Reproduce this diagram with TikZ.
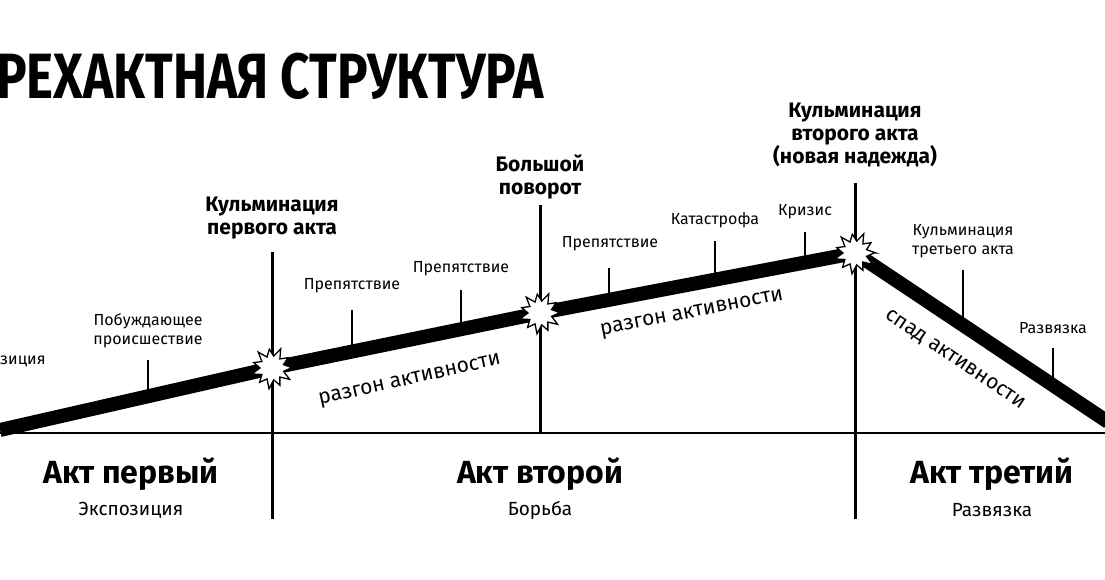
\documentclass[tikz,border=0pt]{standalone}
\usepackage{fontspec}
\setmainfont{Fira Sans}
\begin{document}
\begin{tikzpicture}[x=1pt,y=-1pt,
  lbl/.style={font=\fontsize{16}{19}\selectfont,align=center,inner sep=0},
  hdr/.style={font=\bfseries\fontsize{21}{23}\selectfont,align=center,inner sep=0},
  act/.style={font=\bfseries\fontsize{32}{36}\selectfont,inner sep=0},
  sub/.style={font=\fontsize{19}{22}\selectfont,inner sep=0},
  rot/.style={inner sep=0,font=\fontsize{21}{24}\selectfont},
  tick/.style={line width=1.5pt},
  vline/.style={line width=3pt},
  burst/.style={fill=white,draw=black,line width=1.3pt}]
\useasboundingbox (0,0) rectangle (1105,580);
% title
\node[anchor=west,inner sep=0,font=\bfseries\fontsize{64}{70}\selectfont,xscale=0.8] (title) at (-4,76) {РЕХАКТНАЯ СТРУКТУРА};
% coordinates
\coordinate (s) at (0,430);
\coordinate (c1) at (272,368);
\coordinate (c2) at (540,313);
\coordinate (c3) at (855,253);
\coordinate (e) at (1108,422);
\coordinate (bl) at (0,433);
\coordinate (br) at (1105,433);
% base line
\draw[line width=2.2pt] (bl) -- (br);
% vertical lines
\coordinate (v1t) at (272,252); \coordinate (v1b) at (272,519);
\coordinate (v2t) at (540,205); \coordinate (v2b) at (540,433);
\coordinate (v3t) at (855,183); \coordinate (v3b) at (855,519);
\draw[vline] (v1t) -- (v1b);
\draw[vline] (v2t) -- (v2b);
\draw[vline] (v3t) -- (v3b);
% ticks
\foreach \x/\ya/\yb in {148/360/395, 352/310/352, 461/290/330, 609/268/302, 715/241/282, 805/232/265, 963/270/320, 1053/348/383}
  \draw[tick] (\x,\ya) -- (\x,\yb);
% thick line
\draw[line width=14pt,line join=miter] (s) -- (c1) -- (c2) -- (c3) -- (e);
% bursts
\foreach \c in {c1,c2,c3}
  \draw[burst,shift={(\c)}] plot[samples=23,domain=0:22,variable=\i]
   ({(mod(\i,2)==0 ? 19+mod(\i*7,4) : 12)*cos(\i*360/22)},{(mod(\i,2)==0 ? 19+mod(\i*7,4) : 12)*sin(\i*360/22)}) -- cycle;
% small labels
\node[lbl,anchor=west] (exp0) at (0,361) {зиция};
\node[lbl] (inc) at (148,331) {Побуждающее\\происшествие};
\node[lbl] (p1) at (352,286) {Препятствие};
\node[lbl] (p2) at (461,269) {Препятствие};
\node[lbl] (p3) at (610,244) {Препятствие};
\node[lbl] (cat) at (715,220) {Катастрофа};
\node[lbl] (cr) at (805,212) {Кризис};
\node[lbl] (k3) at (963,241) {Кульминация\\третьего акта};
\node[lbl] (raz) at (1053,328) {Развязка};
% headers
\node[hdr] (h1) at (272,218) {Кульминация\\первого акта};
\node[hdr] (h2) at (540,177) {Большой\\поворот};
\node[hdr] (h3) at (855,135) {Кульминация\\второго акта\\(новая надежда)};
% rotated
\node[rot,rotate=12.5] (r1) at (410,381) {разгон активности};
\node[rot,rotate=11] (r2) at (692,314) {разгон активности};
\node[rot,rotate=-34] (r3) at (955,360) {спад активности};
% acts
\node[act] (a1) at (131,474) {Акт первый};
\node[sub] (s1) at (131,510) {Экспозиция};
\node[act] (a2) at (540,474) {Акт второй};
\node[sub] (s2) at (540,510) {Борьба};
\node[act] (a3) at (992,474) {Акт третий};
\node[sub] (s3) at (992,510) {Развязка};
\end{tikzpicture}
\end{document}
